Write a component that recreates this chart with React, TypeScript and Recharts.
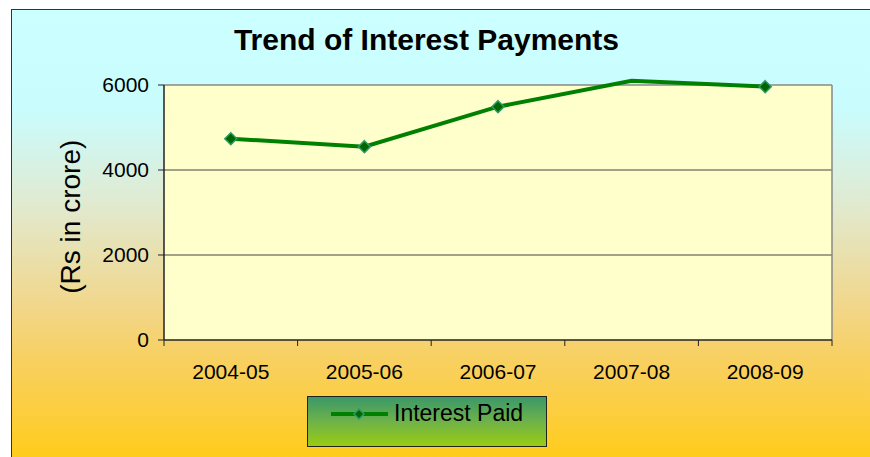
import React from 'react';
import {
  LineChart,
  Line,
  XAxis,
  YAxis,
  ReferenceArea,
  ReferenceLine,
  Legend,
  Label,
} from 'recharts';

// values
const years = ['2004-05', '2005-06', '2006-07', '2007-08', '2008-09'];
const interestPaid = [4736, 4549, 5490, 6102, 5961];
const yTicks = [0, 2000, 4000, 6000];
const axisMax = 6000;

const data = years.map((year, i) => ({ year, paid: interestPaid[i] }));

const FONT = '"Liberation Sans", Arial, sans-serif';

/**
 * Diamond marker; points above the axis maximum are not drawn (like Excel)
 */
const DiamondDot = (props: any) => {
  const { cx, cy, value, index } = props;
  if (cx == null || cy == null || value > axisMax) return <g key={`dot-${index}`} />;
  const r = 6;
  return (
    <path
      key={`dot-${index}`}
      d={`M${cx},${cy - r} L${cx + r},${cy} L${cx},${cy + r} L${cx - r},${cy} Z`}
      fill="#006600"
      stroke="#2E9A6A"
      strokeWidth={1.5}
    />
  );
};

/**
 * Category label with tick marks between categories
 */
const CategoryTick = (props: any) => {
  const { x, y, payload, index, visibleTicksCount, width } = props;
  const half = payload?.offset || width / visibleTicksCount / 2;
  return (
    <g>
      <line x1={x - half} x2={x - half} y1={y} y2={y + 6} stroke="#222" />
      {index === visibleTicksCount - 1 && (
        <line x1={x + half} x2={x + half} y1={y} y2={y + 6} stroke="#222" />
      )}
      <text x={x} y={y + 39} textAnchor="middle" fontSize={21} fill="#000" fontFamily={FONT}>
        {payload.value}
      </text>
    </g>
  );
};

const renderLegend = (props: any) => {
  const item = props.payload?.[0];
  if (!item) return null;
  const r = 5;
  return (
    <div
      style={{
        width: 240,
        height: 51,
        boxSizing: 'border-box',
        border: '1px solid #222',
        background: 'linear-gradient(to bottom, #3A9868 0%, #6FB24A 50%, #99CC12 100%)',
      }}
    >
      <svg width={238} height={49} style={{ display: 'block' }}>
        <line x1={23} x2={80} y1={17} y2={17} stroke={item.color} strokeWidth={4} />
        <path
          d={`M51,${17 - r} L${51 + r},17 L51,${17 + r} L${51 - r},17 Z`}
          fill="#006600"
          stroke="#2E9A6A"
          strokeWidth={1.5}
        />
        <text x={86} y={23.5} fontSize={23} fill="#000" fontFamily={FONT}>
          {item.value}
        </text>
      </svg>
    </div>
  );
};

const YLabel = () => (
  <text
    transform="translate(80, 216.7) rotate(-90)"
    textAnchor="middle"
    fontSize={28}
    fill="#000"
    fontFamily={FONT}
  >
    (Rs in crore)
  </text>
);

export default function App() {
  return (
    <div
      style={{
        position: 'absolute',
        left: 0,
        top: 0,
        width: 870,
        height: 457,
        overflow: 'hidden',
        fontFamily: FONT,
      }}
    >
      <div
        style={{
          position: 'absolute',
          left: 11,
          top: 9,
          width: 880,
          height: 460,
          border: '1.5px solid #333',
          background:
            'linear-gradient(to bottom, #CCFFFF 0px, #C9FCFC 100px, #D6F2E6 150px, #E2E9CC 200px, #EADFAA 250px, #F2D688 300px, #F8D060 350px, #FCCE40 400px, #FFCC18 450px)',
        }}
      />
      <div
        style={{
          position: 'absolute',
          left: 0,
          top: 24.6,
          width: 853,
          textAlign: 'center',
          fontSize: 30,
          lineHeight: '30px',
          fontWeight: 'bold',
          color: '#000',
        }}
      >
        Trend of Interest Payments
      </div>
      <div style={{ position: 'absolute', left: 0, top: 0 }}>
        <LineChart
          width={870}
          height={457}
          data={data}
          margin={{ top: 59.5, right: 38, left: 0, bottom: 57 }}
        >
          <ReferenceArea
            y1={0}
            y2={axisMax}
            fill="#FFFFCC"
            fillOpacity={1}
            stroke="none"
            ifOverflow="visible"
          />
          {yTicks
            .filter((v) => v > 0 && v < axisMax)
            .map((v) => (
              <ReferenceLine key={v} y={v} stroke="#444" strokeWidth={1} />
            ))}
          <ReferenceLine y={axisMax} stroke="#888" strokeWidth={1.5} />
          <ReferenceLine
            segment={[
              { x: years[years.length - 1], y: 0 },
              { x: years[years.length - 1], y: axisMax },
            ]}
            position="end"
            stroke="#888"
            strokeWidth={1.5}
          />
          <ReferenceLine
            segment={[
              { x: years[0], y: 0 },
              { x: years[0], y: axisMax },
            ]}
            position="start"
            stroke="#222"
            strokeWidth={1.5}
          />
          <XAxis
            dataKey="year"
            scale="band"
            interval={0}
            height={60}
            tickSize={0}
            tickMargin={0}
            tickLine={false}
            axisLine={{ stroke: '#222', strokeWidth: 1.5 }}
            tick={<CategoryTick />}
          />
          <YAxis
            domain={[0, 6600]}
            ticks={yTicks}
            width={164}
            tickSize={6}
            tickMargin={9}
            axisLine={false}
            tickLine={{ stroke: '#222' }}
            tick={{ fill: '#000', fontSize: 21, fontFamily: FONT }}
          >
            <Label content={<YLabel />} />
          </YAxis>
          <Legend
            layout="horizontal"
            verticalAlign="middle"
            align="center"
            wrapperStyle={{ left: 307, top: 396, width: 240, height: 51 }}
            content={renderLegend}
          />
          <Line
            type="linear"
            dataKey="paid"
            name="Interest Paid"
            stroke="#008000"
            strokeWidth={4}
            dot={<DiamondDot />}
            activeDot={false}
            isAnimationActive={false}
          />
        </LineChart>
      </div>
    </div>
  );
}
